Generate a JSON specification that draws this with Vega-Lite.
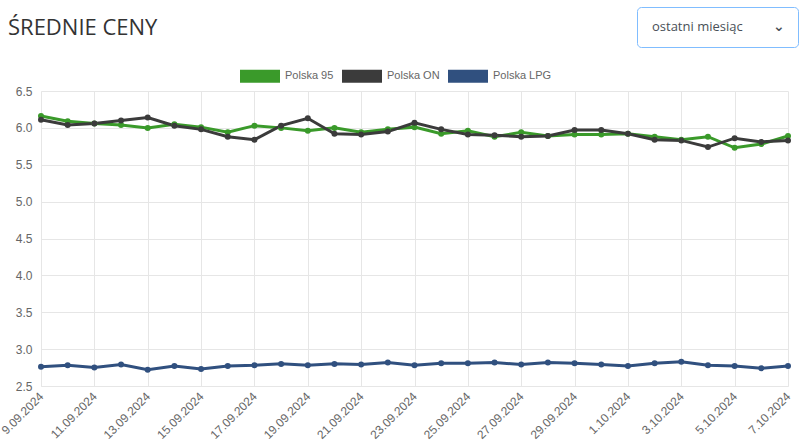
{
  "$schema": "https://vega.github.io/schema/vega-lite/v6.json",
  "width": 747,
  "height": 295,
  "autosize": {"type": "none"},
  "padding": {"left": 41, "top": 91, "right": 12, "bottom": 62},
  "background": "white",
  "title": {
    "text": "ŚREDNIE CENY",
    "anchor": "start",
    "frame": "group",
    "dx": -33,
    "offset": -50,
    "baseline": "alphabetic",
    "font": "Open Sans",
    "fontSize": 22,
    "fontWeight": "normal",
    "color": "#333333"
  },
  "config": {
    "view": {"stroke": null},
    "axis": {
      "labelFont": "Liberation Sans",
      "labelFontSize": 12,
      "labelColor": "#666666",
      "gridColor": "#e6e6e6",
      "domainColor": "#e6e6e6",
      "tickColor": "#e6e6e6"
    }
  },
  "data": {
    "values": [
      {"d": "2024-09-09", "Polska 95": 6.16, "Polska ON": 6.11, "Polska LPG": 2.76},
      {"d": "2024-09-10", "Polska 95": 6.09, "Polska ON": 6.04, "Polska LPG": 2.78},
      {"d": "2024-09-11", "Polska 95": 6.06, "Polska ON": 6.06, "Polska LPG": 2.75},
      {"d": "2024-09-12", "Polska 95": 6.04, "Polska ON": 6.10, "Polska LPG": 2.79},
      {"d": "2024-09-13", "Polska 95": 6.00, "Polska ON": 6.14, "Polska LPG": 2.72},
      {"d": "2024-09-14", "Polska 95": 6.05, "Polska ON": 6.03, "Polska LPG": 2.77},
      {"d": "2024-09-15", "Polska 95": 6.01, "Polska ON": 5.98, "Polska LPG": 2.73},
      {"d": "2024-09-16", "Polska 95": 5.94, "Polska ON": 5.88, "Polska LPG": 2.77},
      {"d": "2024-09-17", "Polska 95": 6.03, "Polska ON": 5.84, "Polska LPG": 2.78},
      {"d": "2024-09-18", "Polska 95": 6.00, "Polska ON": 6.03, "Polska LPG": 2.80},
      {"d": "2024-09-19", "Polska 95": 5.96, "Polska ON": 6.13, "Polska LPG": 2.78},
      {"d": "2024-09-20", "Polska 95": 6.00, "Polska ON": 5.92, "Polska LPG": 2.80},
      {"d": "2024-09-21", "Polska 95": 5.94, "Polska ON": 5.91, "Polska LPG": 2.79},
      {"d": "2024-09-22", "Polska 95": 5.98, "Polska ON": 5.95, "Polska LPG": 2.82},
      {"d": "2024-09-23", "Polska 95": 6.01, "Polska ON": 6.07, "Polska LPG": 2.78},
      {"d": "2024-09-24", "Polska 95": 5.92, "Polska ON": 5.98, "Polska LPG": 2.81},
      {"d": "2024-09-25", "Polska 95": 5.96, "Polska ON": 5.91, "Polska LPG": 2.81},
      {"d": "2024-09-26", "Polska 95": 5.88, "Polska ON": 5.90, "Polska LPG": 2.82},
      {"d": "2024-09-27", "Polska 95": 5.94, "Polska ON": 5.88, "Polska LPG": 2.79},
      {"d": "2024-09-28", "Polska 95": 5.89, "Polska ON": 5.89, "Polska LPG": 2.82},
      {"d": "2024-09-29", "Polska 95": 5.91, "Polska ON": 5.97, "Polska LPG": 2.81},
      {"d": "2024-09-30", "Polska 95": 5.91, "Polska ON": 5.97, "Polska LPG": 2.79},
      {"d": "2024-10-01", "Polska 95": 5.92, "Polska ON": 5.92, "Polska LPG": 2.77},
      {"d": "2024-10-02", "Polska 95": 5.88, "Polska ON": 5.84, "Polska LPG": 2.81},
      {"d": "2024-10-03", "Polska 95": 5.84, "Polska ON": 5.83, "Polska LPG": 2.83},
      {"d": "2024-10-04", "Polska 95": 5.88, "Polska ON": 5.74, "Polska LPG": 2.78},
      {"d": "2024-10-05", "Polska 95": 5.73, "Polska ON": 5.86, "Polska LPG": 2.77},
      {"d": "2024-10-06", "Polska 95": 5.78, "Polska ON": 5.81, "Polska LPG": 2.74},
      {"d": "2024-10-07", "Polska 95": 5.89, "Polska ON": 5.83, "Polska LPG": 2.77}
    ]
  },
  "transform": [
    {"fold": ["Polska 95", "Polska ON", "Polska LPG"], "as": ["series", "price"]}
  ],
  "encoding": {
    "x": {
      "field": "d",
      "type": "temporal",
      "scale": {
        "type": "utc",
        "domain": [
          {"year": 2024, "month": 9, "date": 9, "utc": true},
          {"year": 2024, "month": 10, "date": 7, "utc": true}
        ],
        "nice": false
      },
      "axis": {
        "title": null,
        "format": "%-d.%m.%Y",
        "tickCount": {"interval": "day", "step": 2},
        "labelAngle": -45,
        "labelAlign": "right",
        "labelBaseline": "middle",
        "tickSize": 0,
        "labelPadding": 8,
        "labelOverlap": false,
        "labelBound": false,
        "labelFlush": false
      }
    },
    "y": {
      "field": "price",
      "type": "quantitative",
      "scale": {"domain": [2.5, 6.5], "nice": false, "zero": false},
      "axis": {
        "title": null,
        "values": [2.5, 3.0, 3.5, 4.0, 4.5, 5.0, 5.5, 6.0, 6.5],
        "format": ".1f",
        "tickSize": 0,
        "labelPadding": 9
      }
    },
    "color": {
      "field": "series",
      "type": "nominal",
      "scale": {
        "domain": ["Polska 95", "Polska ON", "Polska LPG"],
        "range": ["#3a9a2a", "#3b3b3b", "#30507f"]
      },
      "legend": {
        "orient": "none",
        "legendX": 199,
        "legendY": -35,
        "direction": "horizontal",
        "title": null,
        "padding": 0,
        "symbolType": "M-1,-0.325H1V0.325H-1Z",
        "symbolSize": 1600,
        "symbolStrokeWidth": 0,
        "symbolOpacity": 1,
        "labelFont": "Liberation Sans",
        "labelFontSize": 11,
        "labelColor": "#666666",
        "labelOffset": 5,
        "columnPadding": 8
      }
    }
  },
  "layer": [
    {"mark": {"type": "line", "strokeWidth": 3}},
    {"mark": {"type": "point", "filled": true, "size": 36, "opacity": 1}},
    {
      "data": {"values": [{"period": "ostatni miesiąc"}]},
      "transform": [],
      "mark": {"type": "point", "opacity": 0},
      "encoding": {
        "x": null,
        "y": null,
        "color": null,
        "shape": {
          "field": "period",
          "type": "nominal",
          "legend": {
            "orient": "none",
            "legendX": 596,
            "legendY": -84,
            "padding": 13,
            "fillColor": "white",
            "strokeColor": "#80bdff",
            "cornerRadius": 4,
            "title": "⌄",
            "titleOrient": "right",
            "titlePadding": 30,
            "titleFont": "DejaVu Sans",
            "titleFontSize": 14,
            "titleFontWeight": "bold",
            "titleColor": "#495057",
            "symbolSize": 4,
            "symbolOpacity": 0,
            "labelFont": "Open Sans",
            "labelFontSize": 13,
            "labelColor": "#495057",
            "labelOffset": -11
          }
        }
      }
    }
  ]
}
